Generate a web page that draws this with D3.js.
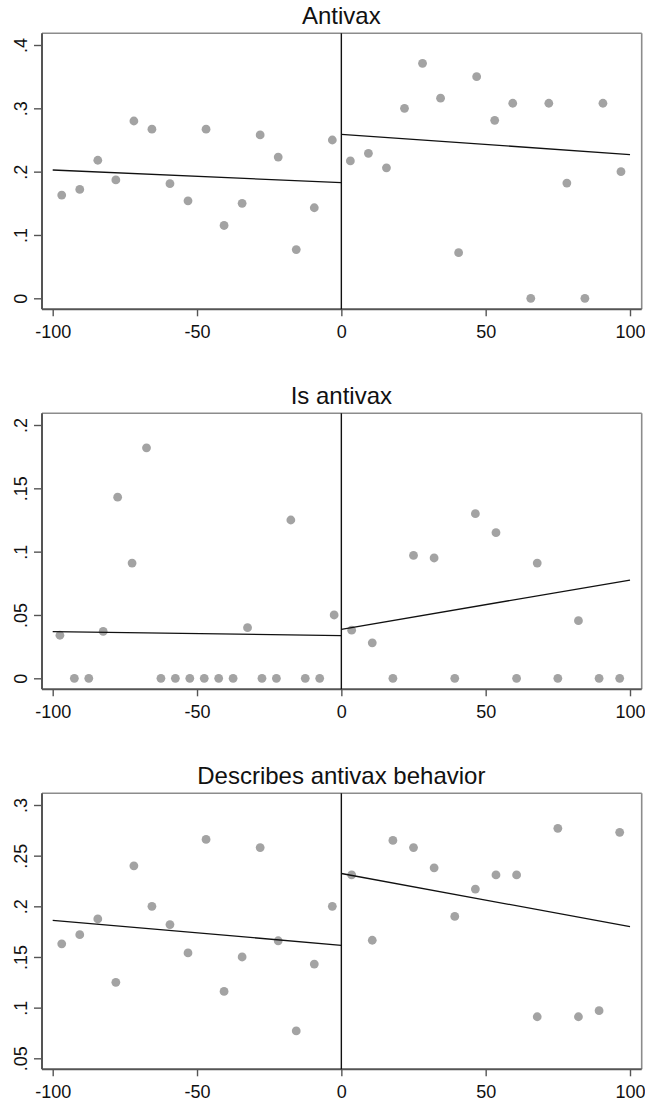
<!DOCTYPE html>
<html>
<head>
<meta charset="utf-8">
<script src="https://cdn.jsdelivr.net/npm/d3@7"></script>
<style>
  html, body { margin: 0; padding: 0; background: #fff; }
  svg { display: block; }
  text { font-family: "Liberation Sans", Arial, sans-serif; fill: #111; }
</style>
</head>
<body>
<svg id="chart" width="645" height="1105"></svg>
<script>
// Bin centres (running variable) for each side of the cutoff
const xLeft16  = [-96.875, -90.625, -84.375, -78.125, -71.875, -65.625, -59.375, -53.125,
                  -46.875, -40.625, -34.375, -28.125, -21.875, -15.625, -9.375, -3.125];
const xRight16 = [3.125, 9.375, 15.625, 21.875, 28.125, 34.375, 40.625, 46.875,
                  53.125, 59.375, 65.625, 71.875, 78.125, 84.375, 90.625, 96.875];
const xLeft20  = [-97.5, -92.5, -87.5, -82.5, -77.5, -72.5, -67.5, -62.5, -57.5, -52.5,
                  -47.5, -42.5, -37.5, -32.5, -27.5, -22.5, -17.5, -12.5, -7.5, -2.5];
const xRight14 = [3.57, 10.71, 17.86, 25, 32.14, 39.29, 46.43, 53.57,
                  60.71, 67.86, 75, 82.14, 89.29, 96.43];

// Panel 1: Antivax
const antivaxLeft  = [0.163, 0.172, 0.218, 0.187, 0.280, 0.267, 0.181, 0.154,
                      0.267, 0.115, 0.150, 0.258, 0.223, 0.077, 0.143, 0.250];
const antivaxRight = [0.217, 0.229, 0.206, 0.300, 0.371, 0.316, 0.072, 0.350,
                      0.281, 0.308, 0.000, 0.308, 0.182, 0.000, 0.308, 0.200];
const antivaxFitLeft  = [0.2026, 0.1826];   // fitted value at -100 and 0
const antivaxFitRight = [0.259, 0.227];     // fitted value at 0 and 100

// Panel 2: Is antivax
const isAntivaxLeft  = [0.034, 0, 0, 0.037, 0.143, 0.091, 0.182, 0, 0, 0,
                        0, 0, 0, 0.040, 0, 0, 0.125, 0, 0, 0.050];
const isAntivaxRight = [0.038, 0.028, 0, 0.097, 0.095, 0, 0.130, 0.115,
                        0, 0.091, 0, 0.0455, 0, 0];
const isAntivaxFitLeft  = [0.0368, 0.0337];
const isAntivaxFitRight = [0.0387, 0.0776];

// Panel 3: Describes antivax behavior
const behaviorLeft  = [0.163, 0.172, 0.1875, 0.125, 0.240, 0.200, 0.182, 0.154,
                       0.266, 0.116, 0.150, 0.258, 0.166, 0.077, 0.143, 0.200];
const behaviorRight = [0.231, 0.1665, 0.265, 0.258, 0.238, 0.190, 0.217, 0.231,
                       0.231, 0.091, 0.277, 0.091, 0.097, 0.273];
const behaviorFitLeft  = [0.1862, 0.1615];
const behaviorFitRight = [0.2324, 0.1799];

// Axis ticks
const xTicks = [-100, -50, 0, 50, 100];
const xTickLabels = ["-100", "-50", "0", "50", "100"];
const yTicks1 = [0, 0.1, 0.2, 0.3, 0.4];
const yTickLabels1 = ["0", ".1", ".2", ".3", ".4"];
const yTicks2 = [0, 0.05, 0.1, 0.15, 0.2];
const yTickLabels2 = ["0", ".05", ".1", ".15", ".2"];
const yTicks3 = [0.05, 0.1, 0.15, 0.2, 0.25, 0.3];
const yTickLabels3 = [".05", ".1", ".15", ".2", ".25", ".3"];

const titles = ["Antivax", "Is antivax", "Describes antivax behavior"];

const panels = [
  { title: titles[0], xl: xLeft16, yl: antivaxLeft, xr: xRight16, yr: antivaxRight,
    fitL: antivaxFitLeft, fitR: antivaxFitRight, ticks: yTicks1, labels: yTickLabels1 },
  { title: titles[1], xl: xLeft20, yl: isAntivaxLeft, xr: xRight14, yr: isAntivaxRight,
    fitL: isAntivaxFitLeft, fitR: isAntivaxFitRight, ticks: yTicks2, labels: yTickLabels2 },
  { title: titles[2], xl: xLeft16, yl: behaviorLeft, xr: xRight14, yr: behaviorRight,
    fitL: behaviorFitLeft, fitR: behaviorFitRight, ticks: yTicks3, labels: yTickLabels3 }
];

// Layout
const frameX = 42, frameW = 599.7, frameH = 276;
const frameTops = [33.3, 413.3, 793.3];
const padL = 10.7, padR = 11.7, padT = 11.7, padB = 11;

const svg = d3.select("#chart");

panels.forEach((p, i) => {
  const g = svg.append("g").attr("transform", `translate(${frameX},${frameTops[i]})`);

  const x = d3.scaleLinear().domain([-100, 100]).range([padL, frameW - padR]);
  const y = d3.scaleLinear()
    .domain([p.ticks[0], p.ticks[p.ticks.length - 1]])
    .range([frameH - padB, padT]);

  // Title
  g.append("text")
    .attr("x", x(0))
    .attr("y", -9.5)
    .attr("text-anchor", "middle")
    .style("font-size", "24px")
    .text(p.title);

  // Plot region outline (top / right lighter)
  g.append("line").attr("x1", 0).attr("x2", frameW).attr("y1", 0).attr("y2", 0)
    .attr("stroke", "#8c8c8c").attr("stroke-width", 1.6);
  g.append("line").attr("x1", frameW).attr("x2", frameW).attr("y1", 0).attr("y2", frameH)
    .attr("stroke", "#8c8c8c").attr("stroke-width", 1.6);

  // Y axis
  const yAxis = d3.axisLeft(y)
    .tickValues(p.ticks)
    .tickFormat((d, k) => p.labels[k])
    .tickSize(8)
    .tickSizeOuter(0);
  const ya = g.append("g").call(yAxis);
  ya.select(".domain").remove();
  ya.selectAll(".tick line").attr("stroke", "#555").attr("stroke-width", 1.4);
  ya.selectAll(".tick text")
    .attr("x", null).attr("dy", null)
    .attr("text-anchor", "middle")
    .attr("transform", "translate(-15,0) rotate(-90)")
    .style("font-size", "18px")
    .attr("fill", "#111");

  // X axis
  const xAxis = d3.axisBottom(x)
    .tickValues(xTicks)
    .tickFormat((d, k) => xTickLabels[k])
    .tickSize(7)
    .tickSizeOuter(0);
  const xa = g.append("g").attr("transform", `translate(0,${frameH})`).call(xAxis);
  xa.select(".domain").remove();
  xa.selectAll(".tick line").attr("stroke", "#555").attr("stroke-width", 1.4);
  xa.selectAll(".tick text")
    .attr("y", 29).attr("dy", null)
    .style("font-size", "18px")
    .attr("fill", "#111");

  // Axis lines (left / bottom)
  g.append("line").attr("x1", 0).attr("x2", 0).attr("y1", 0).attr("y2", frameH)
    .attr("stroke", "#555").attr("stroke-width", 2);
  g.append("line").attr("x1", 0).attr("x2", frameW).attr("y1", frameH).attr("y2", frameH)
    .attr("stroke", "#555").attr("stroke-width", 2);

  // Binned means
  const pts = p.xl.map((d, k) => [d, p.yl[k]])
    .concat(p.xr.map((d, k) => [d, p.yr[k]]));
  g.append("g").selectAll("circle").data(pts).join("circle")
    .attr("cx", d => x(d[0]))
    .attr("cy", d => y(d[1]))
    .attr("r", 4.4)
    .attr("fill", "#a3a3a3");

  // Linear fits on each side of the cutoff
  const line = d3.line().x(d => x(d[0])).y(d => y(d[1]));
  g.append("path").datum([[-100, p.fitL[0]], [0, p.fitL[1]]])
    .attr("d", line).attr("fill", "none").attr("stroke", "#111").attr("stroke-width", 1.3);
  g.append("path").datum([[0, p.fitR[0]], [100, p.fitR[1]]])
    .attr("d", line).attr("fill", "none").attr("stroke", "#111").attr("stroke-width", 1.3);

  // Cutoff line
  g.append("line").attr("x1", x(0)).attr("x2", x(0)).attr("y1", 0).attr("y2", frameH)
    .attr("stroke", "#111").attr("stroke-width", 1.4);
});
</script>
</body>
</html>
